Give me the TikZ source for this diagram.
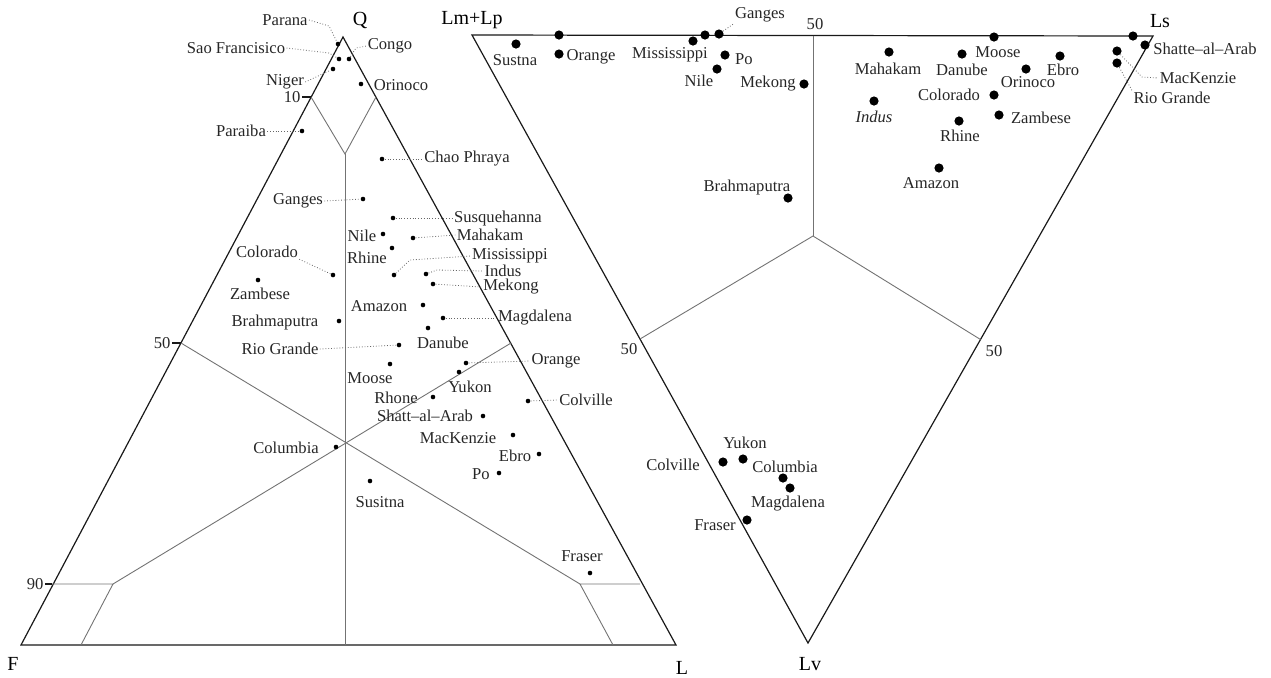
\documentclass[tikz,border=0pt]{standalone}
\usepackage{fontspec}
\setmainfont{Liberation Serif}
\usetikzlibrary{positioning}

\begin{document}
\begin{tikzpicture}[x=0.5pt,y=-0.5pt,
  lb/.style={font=\fontsize{8.3}{9}\selectfont,inner sep=0.5pt,text=black!85},
  vx/.style={font=\fontsize{10}{12}\selectfont,inner sep=0pt},
  sd/.style={circle,fill=black,inner sep=0pt,minimum size=2.3pt},
  bd/.style={circle,fill=black,inner sep=0pt,minimum size=4.6pt},
  frame/.style={line width=0.6pt,black!90},
  field/.style={line width=0.45pt,black!55},
  leader/.style={densely dotted,line width=0.4pt,black!60}]
\useasboundingbox (0,0) rectangle (1271,677);

% QFL triangle
\coordinate (F) at (21,645);
\coordinate (L) at (676,645);
\coordinate (Q) at (343,37);
\draw[frame] (F) -- (Q) -- (L) -- cycle;
\node[vx] (nQ) at (360,20) {Q};
\node[vx] (nF) at (13,664) {F};
\node[vx] (nL) at (682,668) {L};
\coordinate (c10l) at (311,97);
\coordinate (c10r) at (376,97);
\coordinate (cV) at (345,154);
\coordinate (cX) at (345,443);
\coordinate (c50l) at (181,343);
\coordinate (c50r) at (511,343);
\coordinate (c90l) at (52,584);
\coordinate (b90l) at (113,584);
\coordinate (b90r) at (580,584);
\coordinate (c90r) at (640,584);
\draw[field] (c10l) -- (cV) -- (c10r);
\draw[field] (cV) -- (345,645);
\draw[field] (c50l) -- (b90r);
\draw[field] (c50r) -- (b90l);
\draw[field] (c90l) -- (b90l) -- (81,645);
\draw[field] (c90r) -- (b90r) -- (613,645);
\draw[frame] (c10l) -- ++(-9,0) node[lb,left] (t10) {10};
\draw[frame] (c50l) -- ++(-9,0) node[lb,left] (t50) {50};
\draw[frame] (c90l) -- ++(-7,0) node[lb,left] (t90) {90};

\node[sd] (pParana) at (338,44) {};
\node[lb] (lParana) at (285,20) {Parana};
\node[sd] (pSao) at (339,59) {};
\node[lb] (lSao) at (236,48) {Sao Francisico};
\node[sd] (pCongo) at (349,59) {};
\node[lb] (lCongo) at (390,46) {Congo};
\node[sd] (pNiger) at (333,69) {};
\node[lb] (lNiger) at (285,82) {Niger};
\node[sd] (pOrinoco) at (361,84) {};
\node[lb] (lOrinoco) at (401,85) {Orinoco};
\node[sd] (pParaiba) at (302,131) {};
\node[lb] (lParaiba) at (241,131) {Paraiba};
\node[sd] (pChao) at (382,159) {};
\node[lb] (lChao) at (467,159) {Chao Phraya};
\node[sd] (pGanges) at (363,199) {};
\node[lb] (lGanges) at (298,201) {Ganges};
\node[sd] (pSusq) at (393,218) {};
\node[lb] (lSusq) at (498,218) {Susquehanna};
\node[sd] (pNile) at (383,234) {};
\node[lb] (lNile) at (362,236) {Nile};
\node[sd] (pMahakam) at (413,238) {};
\node[lb] (lMahakam) at (490,235) {Mahakam};
\node[sd] (pRhine) at (392,248) {};
\node[lb] (lRhine) at (367,258) {Rhine};
\node[sd] (pColorado) at (333,275) {};
\node[lb] (lColorado) at (267,252) {Colorado};
\node[sd] (pMiss) at (394,275) {};
\node[lb] (lMiss) at (510,256) {Mississippi};
\node[sd] (pZambese) at (258,280) {};
\node[lb] (lZambese) at (260,294) {Zambese};
\node[sd] (pIndus) at (426,274) {};
\node[lb] (lIndus) at (503,271) {Indus};
\node[sd] (pMekong) at (433,284) {};
\node[lb] (lMekong) at (511,287) {Mekong};
\node[sd] (pAmazon) at (423,305) {};
\node[lb] (lAmazon) at (379,306) {Amazon};
\node[sd] (pBrahma) at (339,321) {};
\node[lb] (lBrahma) at (275,322) {Brahmaputra};
\node[sd] (pMagda) at (443,318) {};
\node[lb] (lMagda) at (535,318) {Magdalena};
\node[sd] (pDanube) at (428,328) {};
\node[lb] (lDanube) at (443,343) {Danube};
\node[sd] (pRio) at (399,345) {};
\node[lb] (lRio) at (280,349) {Rio Grande};
\node[sd] (pMoose) at (390,364) {};
\node[lb] (lMoose) at (370,378) {Moose};
\node[sd] (pOrange) at (466,363) {};
\node[lb] (lOrange) at (556,361) {Orange};
\node[sd] (pYukon) at (459,372) {};
\node[lb] (lYukon) at (470,387) {Yukon};
\node[sd] (pRhone) at (433,397) {};
\node[lb] (lRhone) at (396,398) {Rhone};
\node[sd] (pColville) at (528,401) {};
\node[lb] (lColville) at (586,400) {Colville};
\node[sd] (pShatt) at (483,416) {};
\node[lb] (lShatt) at (425,416) {Shatt--al--Arab};
\node[sd] (pMac) at (513,435) {};
\node[lb] (lMac) at (458,438) {MacKenzie};
\node[sd] (pColumbia) at (336,447) {};
\node[lb] (lColumbia) at (286,448) {Columbia};
\node[sd] (pEbro) at (539,454) {};
\node[lb] (lEbro) at (515,456) {Ebro};
\node[sd] (pPo) at (499,473) {};
\node[lb] (lPo) at (481,474) {Po};
\node[sd] (pSusitna) at (370,481) {};
\node[lb] (lSusitna) at (380,502) {Susitna};
\node[sd] (pFraser) at (590,573) {};
\node[lb] (lFraser) at (582,556) {Fraser};

\draw[leader] (lParana.east) -- (329,26) -- (pParana);
\draw[leader] (lSao.east) -- (329,53) -- (pSao);
\draw[leader] (pCongo) -- (356,48) -- (lCongo.west);
\draw[leader] (lNiger.east) -- (pNiger);
\draw[leader] (lParaiba.east) -- (pParaiba);
\draw[leader] (pChao) -- (lChao.west);
\draw[leader] (lGanges.east) -- (pGanges);
\draw[leader] (pSusq) -- (lSusq.west);
\draw[leader] (pMahakam) -- (lMahakam.west);
\draw[leader] (lColorado.south east) -- (pColorado);
\draw[leader] (pMiss) -- (410,260) -- (lMiss.west);
\draw[leader] (pIndus) -- (437,270) -- (lIndus.west);
\draw[leader] (pMekong) -- (lMekong.west);
\draw[leader] (pMagda) -- (lMagda.west);
\draw[leader] (lRio.east) -- (pRio);
\draw[leader] (pOrange) -- (lOrange.west);
\draw[leader] (pColville) -- (lColville.west);

% Lm+Lp / Ls / Lv triangle
\coordinate (Lmp) at (472,35);
\coordinate (Ls) at (1153,36);
\coordinate (Lv) at (808,643);
\draw[frame] (Lmp) -- (Ls) -- (Lv) -- cycle;
\node[vx] (nLmp) at (472,20) {Lm+Lp};
\node[vx] (nLs) at (1160,21) {Ls};
\node[vx] (nLv) at (810,664) {Lv};
\coordinate (cR) at (813,236);
\draw[field] (813,35.5) -- (cR);
\draw[field] (640,339) -- (cR) -- (980.5,339.5);
\node[lb] (r50t) at (815,24) {50};
\node[lb] (r50l) at (629,349) {50};
\node[lb] (r50r) at (994,351) {50};

\node[bd] (rSustna) at (516,44) {};
\node[lb] (rlSustna) at (515,60) {Sustna};
\node[bd] (rTopA) at (559,35) {};
\node[bd] (rOrange) at (559,54) {};
\node[lb] (rlOrange) at (591,57) {Orange};
\node[bd] (rMiss) at (693,41) {};
\node[lb] (rlMiss) at (670,55) {Mississippi};
\node[bd] (rTopB) at (705,35) {};
\node[bd] (rGanges) at (719,34) {};
\node[lb] (rlGanges) at (760,15) {Ganges};
\node[bd] (rPo) at (725,55) {};
\node[lb] (rlPo) at (744,59) {Po};
\node[bd] (rNile) at (717,69) {};
\node[lb] (rlNile) at (699,81) {Nile};
\node[bd] (rMekong) at (804,84) {};
\node[lb] (rlMekong) at (768,84) {Mekong};
\node[bd] (rMahakam) at (889,52) {};
\node[lb] (rlMahakam) at (888,69) {Mahakam};
\node[bd] (rMoose) at (994,37) {};
\node[lb] (rlMoose) at (998,52) {Moose};
\node[bd] (rDanube) at (962,54) {};
\node[lb] (rlDanube) at (962,70) {Danube};
\node[bd] (rEbro) at (1060,56) {};
\node[lb] (rlEbro) at (1063,70) {Ebro};
\node[bd] (rOrinoco) at (1026,69) {};
\node[lb] (rlOrinoco) at (1028,82) {Orinoco};
\node[bd] (rColorado) at (994,95) {};
\node[lb] (rlColorado) at (949,95) {Colorado};
\node[bd] (rIndus) at (874,101) {};
\node[lb,font=\fontsize{8.3}{9}\selectfont\itshape] (rlIndus) at (874,117) {Indus};
\node[bd] (rZambese) at (999,115) {};
\node[lb] (rlZambese) at (1041,118) {Zambese};
\node[bd] (rRhine) at (959,121) {};
\node[lb] (rlRhine) at (960,136) {Rhine};
\node[bd] (rAmazon) at (939,168) {};
\node[lb] (rlAmazon) at (931,183) {Amazon};
\node[bd] (rTopC) at (1133,36) {};
\node[bd] (rShatt) at (1145,45) {};
\node[lb] (rlShatt) at (1205,49) {Shatte--al--Arab};
\node[bd] (rMac) at (1117,51) {};
\node[lb] (rlMac) at (1198,78) {MacKenzie};
\node[bd] (rRio) at (1117,63) {};
\node[lb] (rlRio) at (1172,98) {Rio Grande};
\node[bd] (rBrahma) at (788,198) {};
\node[lb] (rlBrahma) at (747,187) {Brahmaputra};
\node[bd] (rColville) at (723,462) {};
\node[lb] (rlColville) at (673,465) {Colville};
\node[bd] (rYukon) at (743,459) {};
\node[lb] (rlYukon) at (745,443) {Yukon};
\node[bd] (rColumbia) at (783,478) {};
\node[lb] (rlColumbia) at (785,467) {Columbia};
\node[bd] (rMagda) at (790,488) {};
\node[lb] (rlMagda) at (788,504) {Magdalena};
\node[bd] (rFraser) at (747,520) {};
\node[lb] (rlFraser) at (715,525) {Fraser};

\draw[leader] (rGanges) -- (rlGanges.south west);
\draw[leader] (rMac) -- (1142,77) -- (rlMac.west);
\draw[leader] (rRio) -- (rlRio.north west);
\end{tikzpicture}
\end{document}
